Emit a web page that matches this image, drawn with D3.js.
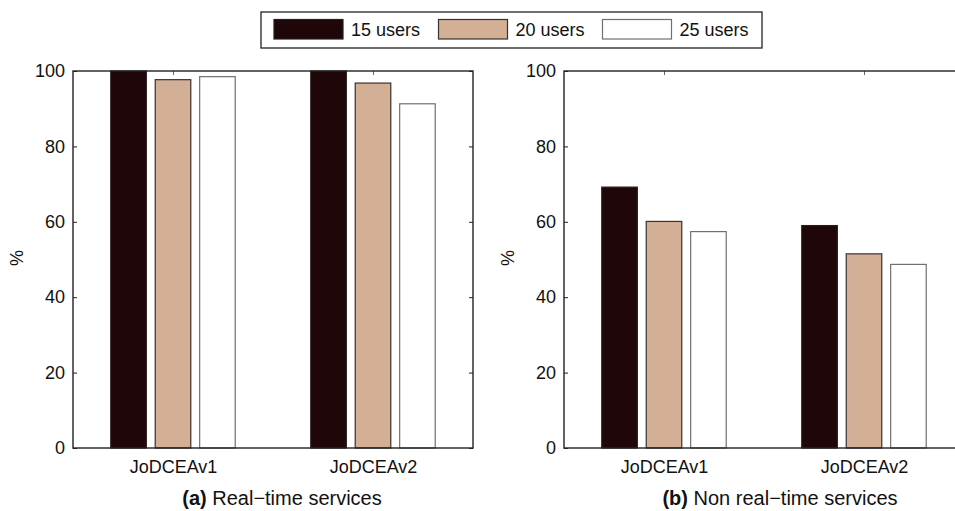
<!DOCTYPE html>
<html>
<head>
<meta charset="utf-8">
<script src="https://cdn.jsdelivr.net/npm/d3@7/dist/d3.min.js"></script>
<style>
  html, body { margin: 0; padding: 0; background: #fff; }
  svg { display: block; font-family: "Liberation Sans", Arial, Helvetica, sans-serif; }
</style>
</head>
<body>
<svg id="chart" width="955" height="511"></svg>
<script>
// Categories and series
const categories = ["JoDCEAv1", "JoDCEAv2"];
const seriesNames = ["15 users", "20 users", "25 users"];
const seriesColors = ["#1f0709", "#d3af95", "#ffffff"];
const seriesStroke = ["#2a1a1a", "#3a3030", "#707070"];

// Panel (a): real-time services
const realTime = [
  [100, 100],   // 15 users
  [97.7, 96.8], // 20 users
  [98.5, 91.3]  // 25 users
];
// Panel (b): non real-time services
const nonRealTime = [
  [69.2, 59.0],
  [60.1, 51.5],
  [57.4, 48.7]
];

const yTicks = [0, 20, 40, 60, 80, 100];
const captions = [
  { tag: "(a)", text: " Real\u2212time services" },
  { tag: "(b)", text: " Non real\u2212time services" }
];

const svg = d3.select("#chart");
const axisColor = "#222";

const yTop = 71, yBottom = 448;
const panels = [
  { x0: 73,  x1: 473, data: realTime,    caption: captions[0], capX: 282, labelX: 17 },
  { x0: 564, x1: 964, data: nonRealTime, caption: captions[1], capX: 780, labelX: 508 }
];

// grouped bar geometry (in category units)
const nSeries = seriesNames.length;
const groupWidth = Math.min(0.8, nSeries / (nSeries + 1.5));
const barWidth = groupWidth / nSeries * 0.8;

panels.forEach(p => {
  const x = d3.scaleLinear().domain([0.5, categories.length + 0.5]).range([p.x0, p.x1]);
  const y = d3.scaleLinear().domain([0, 100]).range([yBottom, yTop]);
  const g = svg.append("g");

  // bars
  p.data.forEach((vals, si) => {
    const off = (si - (nSeries - 1) / 2) * groupWidth / nSeries;
    g.selectAll(null)
      .data(vals)
      .enter()
      .append("rect")
      .attr("x", (d, i) => x(i + 1 + off - barWidth / 2))
      .attr("width", x(1 + barWidth) - x(1))
      .attr("y", d => y(d))
      .attr("height", d => y(0) - y(d))
      .attr("fill", seriesColors[si])
      .attr("stroke", seriesStroke[si])
      .attr("stroke-width", 1.2);
  });

  // left axis with inward ticks
  const left = d3.axisLeft(y).tickValues(yTicks).tickSize(-4).tickPadding(8).tickFormat(d3.format("d"));
  const gl = g.append("g").attr("transform", `translate(${p.x0},0)`).call(left);
  gl.select(".domain").remove();
  gl.selectAll("line").attr("stroke", axisColor);
  gl.selectAll("text").attr("font-size", 18).attr("fill", "#111");

  // right axis ticks (inward)
  const right = d3.axisRight(y).tickValues(yTicks).tickSize(-4).tickFormat("");
  const gr = g.append("g").attr("transform", `translate(${p.x1},0)`).call(right);
  gr.select(".domain").remove();
  gr.selectAll("line").attr("stroke", axisColor);

  // bottom axis labels
  const bottom = d3.axisBottom(x).tickValues([1, 2]).tickSize(0).tickPadding(12)
    .tickFormat((d) => categories[d - 1]);
  const gb = g.append("g").attr("transform", `translate(0,${yBottom})`).call(bottom);
  gb.select(".domain").remove();
  gb.selectAll("text").attr("font-size", 18).attr("fill", "#111");

  // top ticks pointing down
  const top = d3.axisTop(x).tickValues([1, 2]).tickSize(-4).tickFormat("");
  const gt = g.append("g").attr("transform", `translate(0,${yTop})`).call(top);
  gt.select(".domain").remove();
  gt.selectAll("line").attr("stroke", "#666");

  // frame
  g.append("rect")
    .attr("x", p.x0).attr("y", yTop)
    .attr("width", p.x1 - p.x0).attr("height", yBottom - yTop)
    .attr("fill", "none").attr("stroke", axisColor).attr("stroke-width", 1.4);

  // y label
  svg.append("text")
    .attr("transform", `translate(${p.labelX + 6},258) rotate(-90)`)
    .attr("text-anchor", "middle")
    .attr("font-size", 18).attr("fill", "#111")
    .text("%");

  // caption
  const cap = svg.append("text")
    .attr("x", p.capX).attr("y", 505)
    .attr("text-anchor", "middle")
    .attr("font-size", 20).attr("fill", "#111");
  cap.append("tspan").attr("font-weight", "bold").text(p.caption.tag);
  cap.append("tspan").text(p.caption.text);
});

// legend
const legend = svg.append("g");
legend.append("rect")
  .attr("x", 261).attr("y", 12).attr("width", 501).attr("height", 36)
  .attr("fill", "#fff").attr("stroke", axisColor).attr("stroke-width", 1.3);
const legendX = [274, 438.5, 602.5];
seriesNames.forEach((name, i) => {
  legend.append("rect")
    .attr("x", legendX[i]).attr("y", 19.5).attr("width", 69).attr("height", 19.5)
    .attr("fill", seriesColors[i]).attr("stroke", seriesStroke[i]).attr("stroke-width", 1.2);
  legend.append("text")
    .attr("x", legendX[i] + 77).attr("y", 36)
    .attr("font-size", 18).attr("fill", "#111")
    .text(name);
});
</script>
</body>
</html>
